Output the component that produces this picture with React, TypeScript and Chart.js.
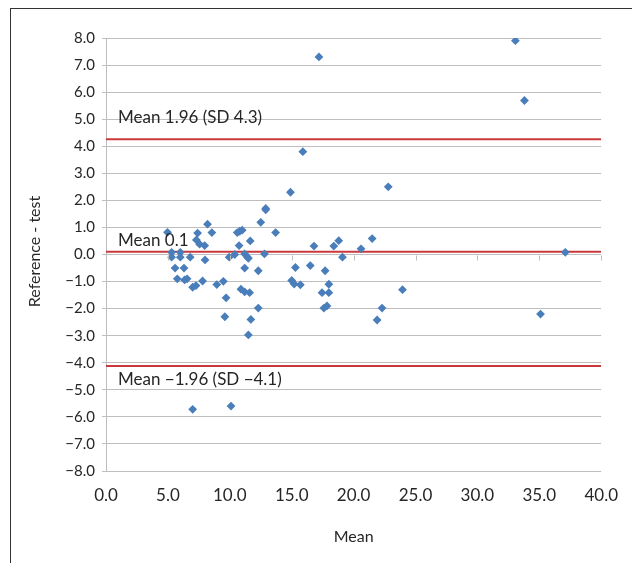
import React, { useEffect, useRef } from "react";
import { Chart, registerables } from "chart.js";

Chart.register(...registerables);

// Mean of the two measurements (x) and difference Reference - test (y)
const meanValues = [
  4.97, 5.3, 5.3, 6.0, 6.0, 6.8, 5.58, 6.3, 5.76, 6.35, 6.55, 7.0, 7.27, 7.8, 7.4, 7.3, 7.56, 7.97, 8.0, 8.2,
  8.55, 8.95, 9.48, 9.7, 9.6, 9.95, 10.4, 10.6, 10.8, 11.0, 10.75, 11.2, 11.4, 11.5, 11.2, 10.9, 11.2, 11.6,
  11.65, 12.3, 12.3, 11.7, 11.5, 12.5, 12.9, 12.9, 12.8, 13.7, 15.0, 15.2, 15.7, 15.3, 15.9, 14.9, 22.8, 16.8,
  18.4, 18.8, 20.6, 21.5, 19.1, 16.5, 17.7, 18.0, 17.45, 18.0, 17.6, 17.85, 22.3, 21.9, 23.95, 7.0, 10.1, 33.07,
  17.2, 33.8, 37.1, 35.1,
];
const diffValues = [
  0.82, 0.08, -0.1, 0.08, -0.1, -0.1, -0.5, -0.5, -0.9, -0.94, -0.9, -1.21, -1.15, -0.98, 0.79, 0.54, 0.38, 0.33,
  -0.2, 1.12, 0.81, -1.11, -0.99, -1.6, -2.3, -0.1, 0.0, 0.81, 0.86, 0.9, 0.33, 0.02, -0.08, -0.14, -0.5, -1.28,
  -1.38, -1.41, 0.5, -0.6, -1.98, -2.4, -2.97, 1.19, 1.65, 1.7, 0.02, 0.81, -0.96, -1.09, -1.12, -0.48, 3.8, 2.3,
  2.5, 0.31, 0.31, 0.51, 0.21, 0.59, -0.1, -0.41, -0.6, -1.1, -1.41, -1.41, -1.98, -1.9, -1.98, -2.42, -1.3,
  -5.72, -5.6, 7.9, 7.3, 5.69, 0.08, -2.2,
];

// Limits of agreement and mean difference
const limitValues = [4.26, 0.1, -4.12];
const limitLabels = ["Mean 1.96 (SD 4.3)", "Mean 0.1", "Mean \u22121.96 (SD \u22124.1)"];

const xMin = 0;
const xMax = 40;
const xStep = 5;
const yMin = -8;
const yMax = 8;
const yStep = 1;

const xTitle = "Mean";
const yTitle = "Reference - test";

const FONT = "Lato, 'Open Sans', sans-serif";
const TEXT = "#262626";
const GRID = "#BEBEBE";
const RED = "#C9393B";
const BLUE = "#4A7EBB";

const fmt = (v: number) => Number(v).toFixed(1).replace("-", "\u2212");

const overlayPlugin = {
  id: "overlay",
  afterDatasetsDraw(chart: any) {
    const { ctx, scales } = chart;
    const xs = scales.x;
    const ys = scales.y;
    ctx.save();
    // tick marks on the horizontal axis crossing at zero
    const y0 = Math.round(ys.getPixelForValue(0)) + 0.5;
    ctx.strokeStyle = GRID;
    ctx.lineWidth = 1;
    for (let v = xMin; v <= xMax; v += xStep) {
      const px = Math.round(xs.getPixelForValue(v)) + 0.5;
      ctx.beginPath();
      ctx.moveTo(px, y0);
      ctx.lineTo(px, y0 + 5);
      ctx.stroke();
    }
    // labels of the reference lines
    ctx.fillStyle = TEXT;
    ctx.font = `17px ${FONT}`;
    ctx.textAlign = "left";
    ctx.textBaseline = "middle";
    const offsets = [-22, -11, 14];
    limitValues.forEach((v, i) => {
      const py = ys.getPixelForValue(v);
      ctx.fillText(limitLabels[i], xs.left + 12, py + offsets[i]);
    });
    // y axis title
    ctx.font = `16px ${FONT}`;
    ctx.textAlign = "center";
    ctx.translate(35, (ys.top + ys.bottom) / 2 - 3);
    ctx.rotate(-Math.PI / 2);
    ctx.fillText(yTitle, 0, 0);
    ctx.restore();
  },
};

export default function App() {
  const ref = useRef<HTMLCanvasElement | null>(null);

  useEffect(() => {
    if (!ref.current) return;
    const points = meanValues.map((x, i) => ({ x, y: diffValues[i] }));
    const lineSets = limitValues.map((v) => ({
      type: "line" as const,
      data: [
        { x: xMin, y: v },
        { x: xMax, y: v },
      ],
      showLine: true,
      borderColor: RED,
      borderWidth: 2,
      pointRadius: 0,
      fill: false,
    }));
    const chart = new Chart(ref.current, {
      type: "scatter",
      data: {
        datasets: [
          {
            data: points,
            backgroundColor: BLUE,
            borderColor: BLUE,
            borderWidth: 0,
            pointStyle: "rectRot",
            pointRadius: 4.4,
          },
          ...lineSets,
        ] as any,
      },
      options: {
        animation: false,
        responsive: false,
        devicePixelRatio: 1,
        layout: { padding: { top: 38, right: 22, left: 0, bottom: 0 } },
        plugins: { legend: { display: false }, tooltip: { enabled: false } },
        scales: {
          x: {
            type: "linear",
            min: xMin,
            max: xMax,
            afterFit: (s: any) => {
              s.height = 92;
            },
            grid: { display: false, drawTicks: false },
            border: { display: false },
            ticks: {
              stepSize: xStep,
              padding: 14,
              color: TEXT,
              font: { family: FONT, size: 17 },
              callback: (v: any) => fmt(v),
              maxRotation: 0,
            },
            title: {
              display: true,
              text: xTitle,
              color: TEXT,
              font: { family: FONT, size: 16 },
              padding: { top: 0, bottom: 17 },
            },
          },
          y: {
            type: "linear",
            min: yMin,
            max: yMax,
            afterFit: (s: any) => {
              s.width = 106;
            },
            grid: { color: GRID, lineWidth: 1, tickLength: 4, drawTicks: true },
            border: { display: true, color: GRID, width: 1 },
            ticks: {
              stepSize: yStep,
              padding: 7,
              color: TEXT,
              font: { family: FONT, size: 15 },
              callback: (v: any) => fmt(v),
            },
          },
        },
      },
      plugins: [overlayPlugin],
    });
    return () => chart.destroy();
  }, []);

  return (
    <div style={{ position: "absolute", left: 0, top: 0, width: 632, height: 563, overflow: "hidden", background: "#fff" }}>
      <div
        style={{
          position: "absolute",
          left: 10,
          top: 8,
          width: 622,
          height: 555,
          borderLeft: "1px solid #333",
          borderTop: "1px solid #333",
          boxSizing: "border-box",
        }}
      />
      <canvas ref={ref} width={632} height={563} style={{ position: "absolute", left: 0, top: 0, width: 632, height: 563 }} />
    </div>
  );
}
